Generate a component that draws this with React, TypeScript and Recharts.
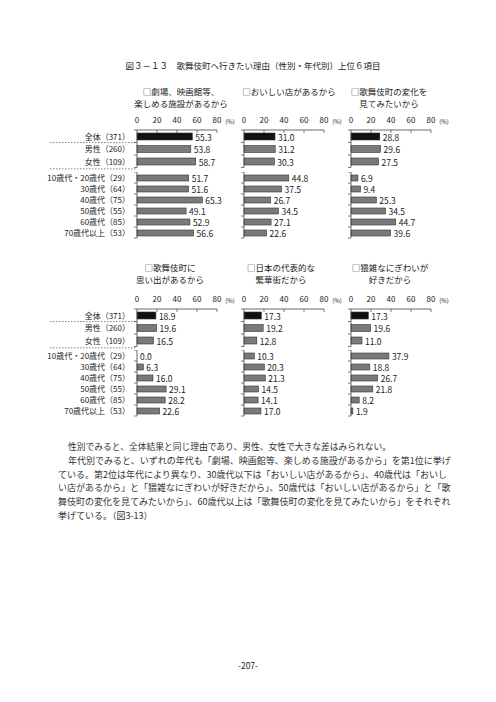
import React from "react";
import { BarChart, Bar, XAxis, YAxis, Cell } from "recharts";

const FONT = '"Noto Sans CJK JP", "Noto Sans", sans-serif';
const INK = "#222";

// 集計区分
const totalGroups = ["全体（371）", "男性（260）", "女性（109）"];
const ageGroups = [
  "10歳代・20歳代（29）",
  "30歳代（64）",
  "40歳代（75）",
  "50歳代（55）",
  "60歳代（85）",
  "70歳代以上（53）",
];
const axisTicks = [0, 20, 40, 60, 80];

// 各理由の割合 (%) : 全体・性別 / 年代別
const theaterTotal = [55.3, 53.8, 58.7];
const theaterAge = [51.7, 51.6, 65.3, 49.1, 52.9, 56.6];
const restaurantTotal = [31.0, 31.2, 30.3];
const restaurantAge = [44.8, 37.5, 26.7, 34.5, 27.1, 22.6];
const changeTotal = [28.8, 29.6, 27.5];
const changeAge = [6.9, 9.4, 25.3, 34.5, 44.7, 39.6];
const memoryTotal = [18.9, 19.6, 16.5];
const memoryAge = [0.0, 6.3, 16.0, 29.1, 28.2, 22.6];
const downtownTotal = [17.3, 19.2, 12.8];
const downtownAge = [10.3, 20.3, 21.3, 14.5, 14.1, 17.0];
const bustleTotal = [17.3, 19.6, 11.0];
const bustleAge = [37.9, 18.8, 26.7, 21.8, 8.2, 1.9];

const bodyLines = [
  "性別でみると、全体結果と同じ理由であり、男性、女性で大きな差はみられない。",
  "年代別でみると、いずれの年代も「劇場、映画館等、楽しめる施設があるから」を第1位に挙げ",
  "ている。第2位は年代により異なり、30歳代以下は「おいしい店があるから」、40歳代は「おいし",
  "い店があるから」と「猥雑なにぎわいが好きだから」、50歳代は「おいしい店があるから」と「歌",
  "舞伎町の変化を見てみたいから」、60歳代以上は「歌舞伎町の変化を見てみたいから」をそれぞれ",
  "挙げている。（図3-13）",
];

const toRows = (names: string[], values: number[]) =>
  names.map((name, i) => ({ name, value: values[i] }));

// 中央寄せのテキスト
const Txt = ({ x, y, size = 8.5, children }: any) => (
  <div
    style={{
      position: "absolute",
      left: x,
      top: y,
      transform: "translate(-50%, -50%)",
      fontSize: size,
      lineHeight: 1,
      whiteSpace: "nowrap",
      color: INK,
    }}
  >
    {children}
  </div>
);

const xTick = (p: any) => {
  const { x, y, payload } = p;
  return (
    <g>
      <text x={x} y={y - 1} textAnchor="middle" fontSize={8} fill={INK} fontFamily={FONT}>
        {payload.value}
      </text>
      {payload.value > 0 && (
        <line x1={x} x2={x} y1={y + 6} y2={y + 9} stroke="#444" strokeWidth={0.7} />
      )}
      {payload.value === 80 && (
        <text x={x + 13} y={y} textAnchor="middle" fontSize={6} fill={INK} fontFamily={FONT}>
          (%)
        </text>
      )}
    </g>
  );
};

const makeYTick = (step: number, labels: boolean, last: string) => (p: any) => {
  const { x, y, payload } = p;
  const name = payload.value;
  return (
    <g>
      <line x1={x - 3} x2={x} y1={y - step / 2} y2={y - step / 2} stroke="#444" strokeWidth={0.7} />
      {name === last && (
        <line x1={x - 3} x2={x} y1={y + step / 2} y2={y + step / 2} stroke="#444" strokeWidth={0.7} />
      )}
      {labels && (
        <text x={x - 7} y={y} textAnchor="end" dominantBaseline="central" fontSize={8} fill={INK} fontFamily={FONT}>
          {name}
        </text>
      )}
      {labels && name === "全体（371）" && (
        <line x1={x - 87} x2={x} y1={y + 6.3} y2={y + 6.3} stroke="#666" strokeWidth={0.8} strokeDasharray="1.5 1.5" />
      )}
      {labels && name === "女性（109）" && (
        <line x1={x - 87} x2={x} y1={y + 7.6} y2={y + 7.6} stroke="#666" strokeWidth={0.8} strokeDasharray="1.5 1.5" />
      )}
    </g>
  );
};

// バーの形と数値ラベル（0.0 の行でも数値を出す）
const barShape = (p: any) => {
  const { x, y, width, height, fill, payload, background } = p;
  const bx = Number.isFinite(x) ? x : background?.x ?? 0;
  const bw = Number.isFinite(width) && width > 0 ? width : 0;
  const by = Number.isFinite(y) ? y : 0;
  const bh = Number.isFinite(height) ? height : 0;
  return (
    <g>
      {bw > 0 && (
        <rect x={bx} y={by} width={bw} height={bh} fill={fill} stroke="#333" strokeWidth={0.6} />
      )}
      <text x={bx + bw + 3} y={by + bh / 2} dominantBaseline="central" fontSize={8.5} fill={INK} fontFamily={FONT}>
        {Number(payload.value).toFixed(1)}
      </text>
    </g>
  );
};

type PanelProps = {
  x0: number;
  axisY: number;
  title: string[];
  titleX: number;
  titleY: number;
  total: number[];
  age: number[];
  labels?: boolean;
};

const Panel = ({ x0, axisY, title, titleX, titleY, total, age, labels = false }: PanelProps) => {
  const yw = labels ? 97 : 12;
  const step1 = 12.5;
  const step2 = 11;
  return (
    <>
      {title.map((t, i) => (
        <Txt key={t} x={titleX} y={titleY + i * 11.5}>
          {t}
        </Txt>
      ))}

      {/* 全体・性別 */}
      <div style={{ position: "absolute", left: x0 - yw, top: axisY - 20 }}>
        <BarChart
          width={yw + 80 + 30}
          height={20 + step1 * 3 + 6}
          data={toRows(totalGroups, total)}
          layout="vertical"
          margin={{ top: 0, right: 30, bottom: 6, left: 0 }}
        >
          <XAxis
            type="number"
            orientation="top"
            domain={[0, 80]}
            ticks={axisTicks}
            interval={0}
            height={20}
            tickSize={0}
            tickMargin={6}
            tickLine={false}
            axisLine={{ stroke: "#444", strokeWidth: 0.8 }}
            tick={xTick}
          />
          <YAxis
            type="category"
            dataKey="name"
            width={yw}
            interval={0}
            tickSize={0}
            tickMargin={0}
            tickLine={false}
            axisLine={{ stroke: "#444", strokeWidth: 0.8 }}
            tick={makeYTick(step1, labels, totalGroups[2])}
          />
          <Bar dataKey="value" barSize={7} shape={barShape} isAnimationActive={false}>
            {total.map((_, i) => (
              <Cell key={i} fill={i === 0 ? "#111" : "#7a7a7a"} />
            ))}
          </Bar>
        </BarChart>
      </div>

      {/* 年代別 */}
      <div style={{ position: "absolute", left: x0 - yw, top: axisY + 41.5 }}>
        <BarChart
          width={yw + 80 + 30}
          height={step2 * 6 + 4}
          data={toRows(ageGroups, age)}
          layout="vertical"
          margin={{ top: 0, right: 30, bottom: 4, left: 0 }}
        >
          <XAxis type="number" domain={[0, 80]} ticks={axisTicks} hide />
          <YAxis
            type="category"
            dataKey="name"
            width={yw}
            interval={0}
            tickSize={0}
            tickMargin={0}
            tickLine={false}
            axisLine={{ stroke: "#444", strokeWidth: 0.8 }}
            tick={makeYTick(step2, labels, ageGroups[5])}
          />
          <Bar dataKey="value" barSize={6} fill="#7a7a7a" shape={barShape} isAnimationActive={false} />
        </BarChart>
      </div>
    </>
  );
};

export default function App() {
  const top = 130;
  const bottom = 308.5;
  return (
    <div
      style={{
        position: "absolute",
        left: 0,
        top: 0,
        width: 496,
        height: 702,
        background: "#fff",
        overflow: "hidden",
        fontFamily: FONT,
        color: INK,
      }}
    >
      <Txt x={253} y={65}>
        図３－１３　歌舞伎町へ行きたい理由（性別・年代別）上位６項目
      </Txt>

      <Panel x0={137} axisY={top} title={["□劇場、映画館等、", "楽しめる施設があるから"]} titleX={181} titleY={91} total={theaterTotal} age={theaterAge} labels />
      <Panel x0={244} axisY={top} title={["□おいしい店があるから"]} titleX={289} titleY={91} total={restaurantTotal} age={restaurantAge} />
      <Panel x0={351} axisY={top} title={["□歌舞伎町の変化を", "見てみたいから"]} titleX={389} titleY={91} total={changeTotal} age={changeAge} />

      <Panel x0={137} axisY={bottom} title={["□歌舞伎町に", "思い出があるから"]} titleX={170} titleY={267} total={memoryTotal} age={memoryAge} labels />
      <Panel x0={244} axisY={bottom} title={["□日本の代表的な", "繁華街だから"]} titleX={281} titleY={267} total={downtownTotal} age={downtownAge} />
      <Panel x0={351} axisY={bottom} title={["□猥雑なにぎわいが", "好きだから"]} titleX={390} titleY={267} total={bustleTotal} age={bustleAge} />

      {bodyLines.map((line, i) => {
        const indent = i < 2;
        const justify = i >= 1 && i <= 4;
        return (
          <div
            key={i}
            style={{
              position: "absolute",
              left: indent ? 68 : 58,
              top: 447 + i * 13.8 - 5,
              width: justify ? (indent ? 378 : 388) : undefined,
              fontSize: i === 0 ? 8.75 : 9,
              lineHeight: "10px",
              whiteSpace: "nowrap",
              textAlign: "justify",
              textAlignLast: justify ? "justify" : "auto",
              color: "#333",
            }}
          >
            {line}
          </div>
        );
      })}

      <Txt x={248} y={665} size={8.5}>
        -207-
      </Txt>
    </div>
  );
}
